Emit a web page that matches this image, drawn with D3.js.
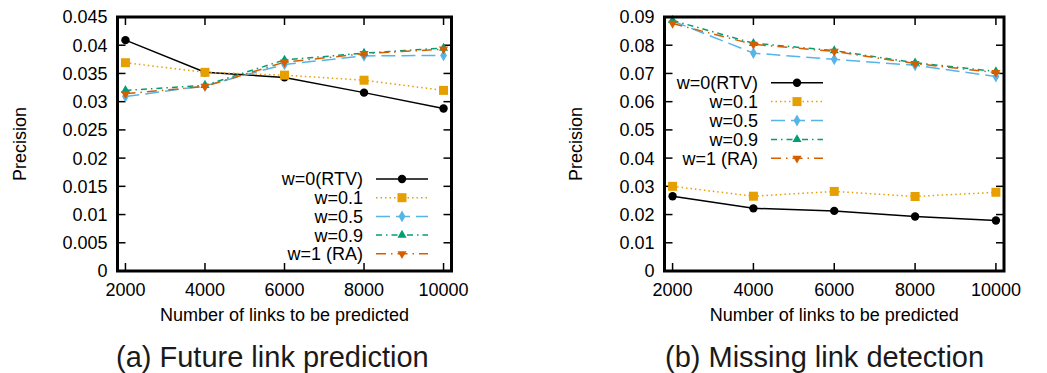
<!DOCTYPE html>
<html lang="en">
<head>
<meta charset="UTF-8">
<title>Precision vs number of links</title>
<script src="https://d3js.org/d3.v7.min.js"></script>
<style>
    body { margin: 0; background: #fff; }
    svg { display: block; font-family: "Liberation Sans", Arial, Helvetica, sans-serif; }
    .tick-label { font-size: 18px; fill: #000; }
    .axis-title { font-size: 18px; fill: #000; }
    .legend-label { font-size: 18px; fill: #000; }
    .caption { font-size: 29px; fill: #1a1a1a; }
</style>
</head>
<body>
<svg id="chart" width="1047" height="373"></svg>
<script>
// x values shared by both panels
const linkCounts = [2000, 4000, 6000, 8000, 10000];
const xTicks = [2000, 4000, 6000, 8000, 10000];

const seriesNames = ["w=0(RTV)", "w=0.1", "w=0.5", "w=0.9", "w=1 (RA)"];

// (a) Future link prediction
const futureRTV = [0.0409, 0.0352, 0.0343, 0.0316, 0.0288];
const futureW01 = [0.0369, 0.0352, 0.0347, 0.0338, 0.0320];
const futureW05 = [0.0309, 0.0328, 0.0366, 0.0381, 0.0382];
const futureW09 = [0.0320, 0.0329, 0.0374, 0.0386, 0.0395];
const futureRA = [0.0314, 0.0327, 0.0370, 0.0385, 0.0393];
const futureYTicks = [0, 0.005, 0.01, 0.015, 0.02, 0.025, 0.03, 0.035, 0.04, 0.045];

// (b) Missing link detection
const missingRTV = [0.0265, 0.0222, 0.0213, 0.0193, 0.0179];
const missingW01 = [0.0300, 0.0265, 0.0282, 0.0264, 0.0279];
const missingW05 = [0.0886, 0.0772, 0.0750, 0.0729, 0.0689];
const missingW09 = [0.0888, 0.0807, 0.0781, 0.0738, 0.0707];
const missingRA = [0.0877, 0.0803, 0.0778, 0.0735, 0.0703];
const missingYTicks = [0, 0.01, 0.02, 0.03, 0.04, 0.05, 0.06, 0.07, 0.08, 0.09];

const styles = [
    {color: "#000000", dash: null, marker: "circle"},
    {color: "#E69F00", dash: "1.5,3", marker: "square"},
    {color: "#56B4E9", dash: "14,6", marker: "diamond"},
    {color: "#009E73", dash: "6,4,1.5,4", marker: "triangle"},
    {color: "#D55E00", dash: "10,5,1.5,5", marker: "triangleDown"}
];

const svg = d3.select("#chart");

function drawMarker(g, type, x, y, color) {
    if (type === "circle") {
        g.append("circle").attr("cx", x).attr("cy", y).attr("r", 4.2).attr("fill", color);
    } else if (type === "square") {
        g.append("rect").attr("x", x - 4.5).attr("y", y - 4.5).attr("width", 9).attr("height", 9).attr("fill", color);
    } else {
        const sym = {
            diamond: d3.symbolDiamond,
            triangle: d3.symbolTriangle,
            triangleDown: d3.symbolTriangle
        }[type];
        const size = type === "diamond" ? 40 : 36;
        g.append("path")
            .attr("d", d3.symbol().type(sym).size(size)())
            .attr("transform", "translate(" + x + "," + y + ")" + (type === "triangleDown" ? " rotate(180)" : ""))
            .attr("fill", color);
    }
}

function drawPanel(p) {
    const x = d3.scaleLinear().domain([1800, 10200]).range([p.left, p.right]);
    const y = d3.scaleLinear().domain([0, p.yMax]).range([p.bottom, p.top]);
    const g = svg.append("g");

    // tick marks on all four sides, pointing inward
    const ticks = g.append("g").attr("stroke", "#000").attr("stroke-width", 1.5);
    p.yTicks.forEach(t => {
        ticks.append("line").attr("x1", p.left).attr("x2", p.left + 8).attr("y1", y(t)).attr("y2", y(t));
        ticks.append("line").attr("x1", p.right).attr("x2", p.right - 8).attr("y1", y(t)).attr("y2", y(t));
        g.append("text").attr("class", "tick-label")
            .attr("x", p.left - 10).attr("y", y(t)).attr("dy", "0.36em")
            .attr("text-anchor", "end")
            .text(t === 0 ? "0" : d3.format("")(+t.toFixed(3)));
    });
    xTicks.forEach(t => {
        ticks.append("line").attr("x1", x(t)).attr("x2", x(t)).attr("y1", p.bottom).attr("y2", p.bottom - 8);
        ticks.append("line").attr("x1", x(t)).attr("x2", x(t)).attr("y1", p.top).attr("y2", p.top + 8);
        g.append("text").attr("class", "tick-label")
            .attr("x", x(t)).attr("y", p.bottom + 25)
            .attr("text-anchor", "middle")
            .text(t);
    });

    // series
    p.series.forEach((vals, i) => {
        const s = styles[i];
        const pts = linkCounts.map((c, j) => [x(c), y(vals[j])]);
        g.append("path")
            .attr("d", d3.line()(pts))
            .attr("fill", "none")
            .attr("stroke", s.color)
            .attr("stroke-width", 1.5)
            .attr("stroke-dasharray", s.dash);
        pts.forEach(pt => drawMarker(g, s.marker, pt[0], pt[1], s.color));
    });

    // legend
    seriesNames.forEach((name, i) => {
        const s = styles[i];
        const ly = p.legendY + i * p.legendStep;
        g.append("text").attr("class", "legend-label")
            .attr("x", p.legendX).attr("y", ly).attr("dy", "0.36em")
            .attr("text-anchor", "end").text(name);
        g.append("line")
            .attr("x1", p.legendX + 13).attr("x2", p.legendX + 65)
            .attr("y1", ly).attr("y2", ly)
            .attr("stroke", s.color).attr("stroke-width", 1.5)
            .attr("stroke-dasharray", s.dash);
        drawMarker(g, s.marker, p.legendX + 39, ly, s.color);
    });

    // frame
    g.append("rect")
        .attr("x", p.left).attr("y", p.top)
        .attr("width", p.right - p.left).attr("height", p.bottom - p.top)
        .attr("fill", "none").attr("stroke", "#000").attr("stroke-width", 3);

    // axis titles
    g.append("text").attr("class", "axis-title")
        .attr("transform", "translate(" + p.yTitleX + "," + ((p.top + p.bottom) / 2) + ") rotate(-90)")
        .attr("text-anchor", "middle").attr("dy", "0.36em")
        .text("Precision");
    g.append("text").attr("class", "axis-title")
        .attr("x", (p.left + p.right) / 2).attr("y", p.bottom + 50)
        .attr("text-anchor", "middle")
        .text("Number of links to be predicted");

    g.append("text").attr("class", "caption")
        .attr("x", p.captionX).attr("y", 367)
        .text(p.caption);
}

drawPanel({
    left: 117.5, right: 451.5, top: 17, bottom: 271,
    yMax: 0.045, yTicks: futureYTicks,
    series: [futureRTV, futureW01, futureW05, futureW09, futureRA],
    legendX: 363, legendY: 179, legendStep: 18.7,
    yTitleX: 20,
    caption: "(a) Future link prediction", captionX: 116
});

drawPanel({
    left: 664.5, right: 1004, top: 17, bottom: 271,
    yMax: 0.09, yTicks: missingYTicks,
    series: [missingRTV, missingW01, missingW05, missingW09, missingRA],
    legendX: 758, legendY: 82.7, legendStep: 18.9,
    yTitleX: 576,
    caption: "(b) Missing link detection", captionX: 665
});
</script>
</body>
</html>
